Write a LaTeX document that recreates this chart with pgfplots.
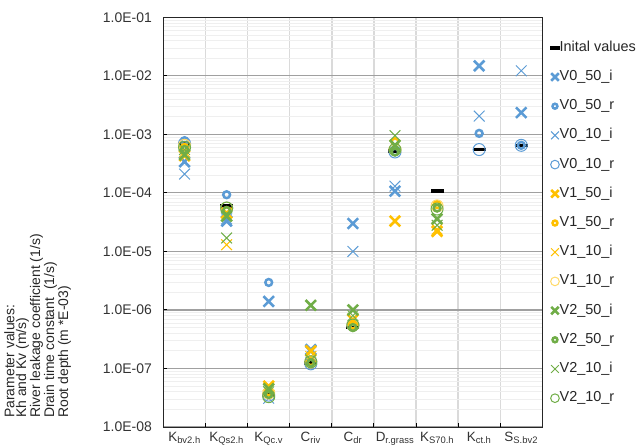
\documentclass[border=0pt]{standalone}
\usepackage{pgfplots}
\pgfplotsset{compat=1.18}
\usepackage{fontspec}
\setmainfont{Liberation Sans}
\definecolor{cb}{HTML}{5B9BD5}
\definecolor{cy}{HTML}{FFC000}
\definecolor{cg}{HTML}{70AD47}
\definecolor{majg}{HTML}{A0A0A0}
\definecolor{ming}{HTML}{EFEFEF}
\definecolor{vg}{HTML}{DADADA}
\pgfplotsset{
  thickx/.style={only marks, mark=x, mark size=7.4bp, line width=2.6bp},
  thinx/.style={only marks, mark=x, mark size=7.6bp, line width=1bp},
  thicko/.style={only marks, mark=o, mark size=3.4bp, line width=2.5bp},
  thino/.style={only marks, mark=o, mark size=6bp, line width=1bp},
}
\begin{document}
\begin{tikzpicture}
\begin{axis}[
  at={(0,0)}, anchor=south west,
  scale only axis, width=378.8bp, height=409.7bp,
  ymode=log, ymin=1e-8, ymax=1e-1,
  xmin=0.5, xmax=9.5,
  xtick={1,2,3,4,5,6,7,8,9},
  xticklabels={K\textsubscript{bv2.h},K\textsubscript{Qs2.h},K\textsubscript{Qc.v},C\textsubscript{riv},C\textsubscript{dr},D\textsubscript{r.grass},K\textsubscript{S70.h},K\textsubscript{ct.h},S\textsubscript{S.bv2}},
  minor xtick={1.5,2.5,3.5,4.5,5.5,6.5,7.5,8.5},
  ytick={1e-8,1e-7,1e-6,1e-5,1e-4,1e-3,1e-2,1e-1},
  yticklabels={1.0E-08,1.0E-07,1.0E-06,1.0E-05,1.0E-04,1.0E-03,1.0E-02,1.0E-01},
  xminorgrids=true, ymajorgrids=true, yminorgrids=true,
  major grid style={color=majg, line width=1.2bp},
  minor y grid style={color=ming, line width=0.8bp},
  minor x grid style={color=vg, line width=1.3bp},
  tick align=inside, xtick pos=left, ytick pos=left,
  major tick length=4bp, minor tick length=4bp,
  tick style={black, line width=1bp},
  major x tick style={draw=none},
  minor y tick style={draw=none},
  axis line style={black!85, line width=1bp},
  yticklabel style={font=\fontsize{14}{16}\selectfont, color=black!80, inner sep=0pt, xshift=-11.5bp},
  xticklabel style={font=\fontsize{13.5}{15}\selectfont, color=black!80, inner sep=0pt, anchor=north, yshift=-4.7bp},
  ylabel={Parameter values:\\Kh and Kv (m/s)\\River leakage coefficient (1/s)\\Drain time constant\ \ (1/s)\\Root depth (m *E-03)},
  ylabel style={at={(axis description cs:-0.4211,0.022)}, anchor=north west, align=left, font=\fontsize{14}{11.8}\selectfont, color=black!85, inner sep=0pt},
  legend style={at={(axis description cs:1,1)}, anchor=north west, xshift=8bp, yshift=-23.5bp,
    inner sep=0pt, outer sep=0pt, draw=none, fill=none, row sep=15.2bp,
    font=\fontsize{14.5}{16}\selectfont, text=black!85,
    nodes={inner sep=0pt, text height=10.5bp, text depth=3.5bp}},
  legend cell align=left,
  every legend image post/.style={mark options={scale=0.72}},
]
\addplot[only marks, mark=-, mark size=6.5bp, line width=3.5bp, black] coordinates {
(1,7e-4) (2,6e-5) (3,3.6e-8) (4,1.25e-7) (5,5e-7) (6,5.2e-4) (7,1.07e-4) (8,5.5e-4) (9,6.5e-4)};
\addlegendentry{Inital values}
\addplot[thickx, cb] coordinates {
(1,3.4e-4) (2,3.3e-5) (3,1.4e-6) (4,2.1e-7) (5,3e-5) (6,1.07e-4) (8,1.48e-2) (9,2.35e-3)};
\addlegendentry{V0\_50\_i}
\addplot[thicko, cb] coordinates {
(1,7.8e-4) (2,9.3e-5) (3,2.95e-6) (4,1.25e-7) (5,5.5e-7) (6,5e-4) (8,1.04e-3) (9,6.5e-4)};
\addlegendentry{V0\_50\_r}
\addplot[thinx, cb] coordinates {
(1,2.1e-4) (2,3.6e-5) (3,3.1e-8) (4,1.9e-7) (5,1e-5) (6,1.3e-4) (8,2.05e-3) (9,1.22e-2)};
\addlegendentry{V0\_10\_i}
\addplot[thino, cb] coordinates {
(1,7e-4) (2,5.5e-5) (3,3.5e-8) (4,1.2e-7) (5,5.5e-7) (6,5e-4) (8,5.5e-4) (9,6.5e-4)};
\addlegendentry{V0\_10\_r}
\addplot[thickx, cy] coordinates {
(1,4.3e-4) (2,4.5e-5) (3,5e-8) (4,2e-7) (5,6.8e-7) (6,3.3e-5) (7,2.2e-5)};
\addlegendentry{V1\_50\_i}
\addplot[thicko, cy] coordinates {
(1,6e-4) (2,5e-5) (3,4e-8) (4,1.3e-7) (5,5.5e-7) (6,7.5e-4) (7,6.3e-5)};
\addlegendentry{V1\_50\_r}
\addplot[thinx, cy] coordinates {
(1,5e-4) (2,1.3e-5) (3,4.5e-8) (4,1.6e-7) (5,7e-7) (6,6.5e-4) (7,2.4e-5)};
\addlegendentry{V1\_10\_i}
\addplot[thino, cy!60] coordinates {
(1,6.5e-4) (2,5.5e-5) (3,3.8e-8) (4,1.3e-7) (5,5.5e-7) (6,5.5e-4) (7,6e-5)};
\addlegendentry{V1\_10\_r}
\addplot[thickx, cg] coordinates {
(1,4.5e-4) (2,4e-5) (3,4.5e-8) (4,1.2e-6) (5,1e-6) (6,6.5e-4) (7,3.6e-5)};
\addlegendentry{V2\_50\_i}
\addplot[thicko, cg] coordinates {
(1,5.5e-4) (2,5e-5) (3,3.6e-8) (4,1.25e-7) (5,5e-7) (6,5e-4) (7,5.5e-5)};
\addlegendentry{V2\_50\_r}
\addplot[thinx, cg] coordinates {
(1,5.5e-4) (2,1.7e-5) (3,4e-8) (4,1.4e-7) (5,8e-7) (6,9.5e-4) (7,2.8e-5)};
\addlegendentry{V2\_10\_i}
\addplot[thino, cg] coordinates {
(1,6e-4) (2,5.5e-5) (3,3.3e-8) (4,1.3e-7) (5,5.5e-7) (6,5.5e-4) (7,5.3e-5)};
\addlegendentry{V2\_10\_r}
\end{axis}
\pgfresetboundingbox
\path[use as bounding box] (-163.5bp,-18bp) rectangle (472.5bp,427bp);
\end{tikzpicture}
\end{document}
